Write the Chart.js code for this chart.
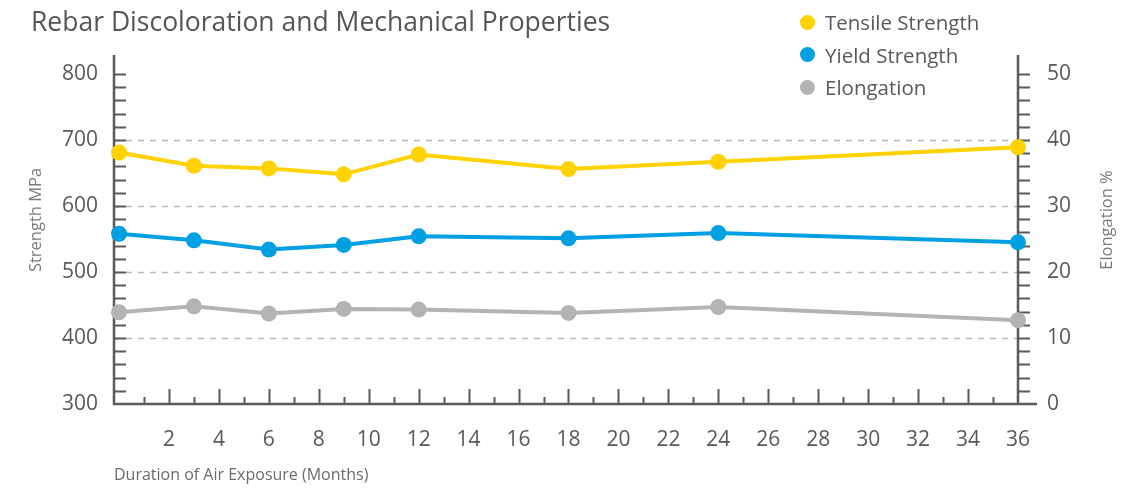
<!DOCTYPE html>
<html>
<head>
<meta charset="utf-8">
<script src="https://cdn.jsdelivr.net/npm/chart.js@4.4.0/dist/chart.umd.min.js"></script>
<style>
  html, body { margin: 0; padding: 0; background: #fff; }
  #wrap { position: relative; width: 1132px; height: 490px; font-family: "Open Sans", sans-serif; }
  #chart { position: absolute; left: 0; top: 0; }
  #title { position: absolute; left: 31px; top: 3px; font-size: 26.5px; line-height: normal; color: #555; white-space: nowrap; }
  #legend { position: absolute; left: 800px; top: 6px; }
  .item { height: 32.5px; display: flex; align-items: center; font-size: 20.5px; color: #595959; }
  .dot { width: 15px; height: 15px; border-radius: 50%; margin-right: 10px; }
</style>
</head>
<body>
<div id="wrap">
  <canvas id="chart" width="1132" height="490"></canvas>
  <div id="title">Rebar Discoloration and Mechanical Properties</div>
  <div id="legend"></div>
</div>
<script>
// months of air exposure where samples were tested
const months = [0, 3, 6, 9, 12, 18, 24, 36];
const tensile = [681, 661, 657, 648, 678, 656, 667, 689];
const yieldStrength = [558, 548, 534, 541, 554, 551, 559, 545];
const elongation = [13.9, 14.8, 13.7, 14.4, 14.3, 13.8, 14.7, 12.7];

const xTickLabels = [2, 4, 6, 8, 10, 12, 14, 16, 18, 20, 22, 24, 26, 28, 30, 32, 34, 36];
const strengthGrid = [400, 500, 600, 700];

const seriesNames = ["Tensile Strength", "Yield Strength", "Elongation"];
const seriesColors = ["#ffd200", "#00a0e3", "#b3b3b3"];
const leftTitle = "Strength MPa";
const rightTitle = "Elongation %";

const textColor = "#595959";
const axisColor = "#5a5a5a";

function points(values) {
    return months.map((m, i) => ({ x: m, y: values[i] }));
}

function lineSet(i, values, axis) {
    return {
        label: seriesNames[i],
        data: points(values),
        yAxisID: axis,
        borderColor: seriesColors[i],
        backgroundColor: seriesColors[i],
        borderWidth: 4,
        pointRadius: 8,
        pointBorderWidth: 0,
        pointHoverRadius: 8,
        tension: 0,
        clip: false
    };
}

// axis lines, inner tick marks and dashed grid drawn under the lines
const axesPlugin = {
    id: "axesPlugin",
    beforeDatasetsDraw(chart) {
        const { ctx, chartArea: a } = chart;
        const x = chart.scales.x, y = chart.scales.y, y1 = chart.scales.y1;
        const over = 19;

        ctx.save();
        ctx.strokeStyle = "#bababa";
        ctx.lineWidth = 1.5;
        ctx.setLineDash([6, 6]);
        strengthGrid.forEach(v => {
            const py = Math.round(y.getPixelForValue(v)) + 0.5;
            ctx.beginPath();
            ctx.moveTo(a.left, py);
            ctx.lineTo(a.right, py);
            ctx.stroke();
        });
        ctx.setLineDash([]);

        ctx.strokeStyle = axisColor;
        ctx.lineWidth = 2;
        ctx.beginPath();
        for (let v = 320; v <= 800; v += 20) {
            const py = Math.round(y.getPixelForValue(v)) + 0.5;
            ctx.moveTo(a.left, py);
            ctx.lineTo(a.left + 12, py);
        }
        for (let v = 2; v <= 50; v += 2) {
            const py = Math.round(y1.getPixelForValue(v)) + 0.5;
            ctx.moveTo(a.right, py);
            ctx.lineTo(a.right + 12, py);
        }
        for (let m = 1; m <= 35; m++) {
            const px = Math.round(x.getPixelForValue(m)) + 0.5;
            ctx.moveTo(px, a.bottom);
            ctx.lineTo(px, a.bottom - (m % 2 === 0 ? 15 : 7));
        }
        ctx.stroke();

        ctx.lineWidth = 2.5;
        ctx.beginPath();
        ctx.moveTo(a.left, a.top - over);
        ctx.lineTo(a.left, a.bottom);
        ctx.lineTo(a.right + over, a.bottom);
        ctx.moveTo(a.right, a.top - over);
        ctx.lineTo(a.right, a.bottom);
        ctx.stroke();
        ctx.restore();
    },
    afterDraw(chart) {
        // both vertical axis titles read bottom-to-top
        const { ctx, chartArea: a } = chart;
        const cy = (a.top + a.bottom) / 2 - 19;
        ctx.save();
        ctx.font = '16.5px "Open Sans"';
        ctx.fillStyle = "#7a7a7a";
        ctx.textAlign = "center";
        ctx.textBaseline = "middle";
        [[a.left - 78, leftTitle], [a.right + 89, rightTitle]].forEach(([tx, text]) => {
            ctx.save();
            ctx.translate(tx, cy);
            ctx.rotate(-Math.PI / 2);
            ctx.fillText(text, 0, 0);
            ctx.restore();
        });
        ctx.restore();
    }
};

const canvas = document.getElementById("chart");
const chart = new Chart(canvas, {
    type: "line",
    data: {
        datasets: [
            lineSet(0, tensile, "y"),
            lineSet(1, yieldStrength, "y"),
            lineSet(2, elongation, "y1")
        ]
    },
    options: {
        responsive: false,
        animation: false,
        layout: { padding: { top: 74, left: 0, right: 0, bottom: 0 } },
        plugins: {
            legend: { display: false },
            tooltip: { enabled: false }
        },
        scales: {
            x: {
                type: "linear",
                min: -0.2,
                max: 36,
                afterBuildTicks: s => { s.ticks = xTickLabels.map(v => ({ value: v })); },
                afterFit: s => { s.height = 86; },
                grid: { display: false, drawTicks: false },
                border: { display: false },
                ticks: {
                    autoSkip: false,
                    maxRotation: 0,
                    padding: 23,
                    color: textColor,
                    font: { family: "Open Sans", size: 21 }
                },
                title: {
                    display: true,
                    text: "Duration of Air Exposure (Months)",
                    align: "start",
                    color: "#6b6b6b",
                    font: { family: "Open Sans", size: 16 },
                    padding: { top: 0, bottom: 5 }
                }
            },
            y: {
                position: "left",
                min: 300,
                max: 800,
                afterFit: s => { s.width = 114; },
                grid: { display: false, drawTicks: false },
                border: { display: false },
                ticks: {
                    stepSize: 100,
                    padding: 16,
                    color: textColor,
                    font: { family: "Open Sans", size: 21 }
                }
            },
            y1: {
                position: "right",
                min: 0,
                max: 50,
                afterFit: s => { s.width = 114; },
                grid: { display: false, drawTicks: false },
                border: { display: false },
                ticks: {
                    stepSize: 10,
                    padding: 29,
                    color: textColor,
                    font: { family: "Open Sans", size: 21 }
                }
            }
        }
    },
    plugins: [axesPlugin]
});

const legend = document.getElementById("legend");
chart.data.datasets.forEach(ds => {
    const item = document.createElement("div");
    item.className = "item";
    const dot = document.createElement("span");
    dot.className = "dot";
    dot.style.background = ds.backgroundColor;
    const label = document.createElement("span");
    label.textContent = ds.label;
    item.appendChild(dot);
    item.appendChild(label);
    legend.appendChild(item);
});
</script>
</body>
</html>
